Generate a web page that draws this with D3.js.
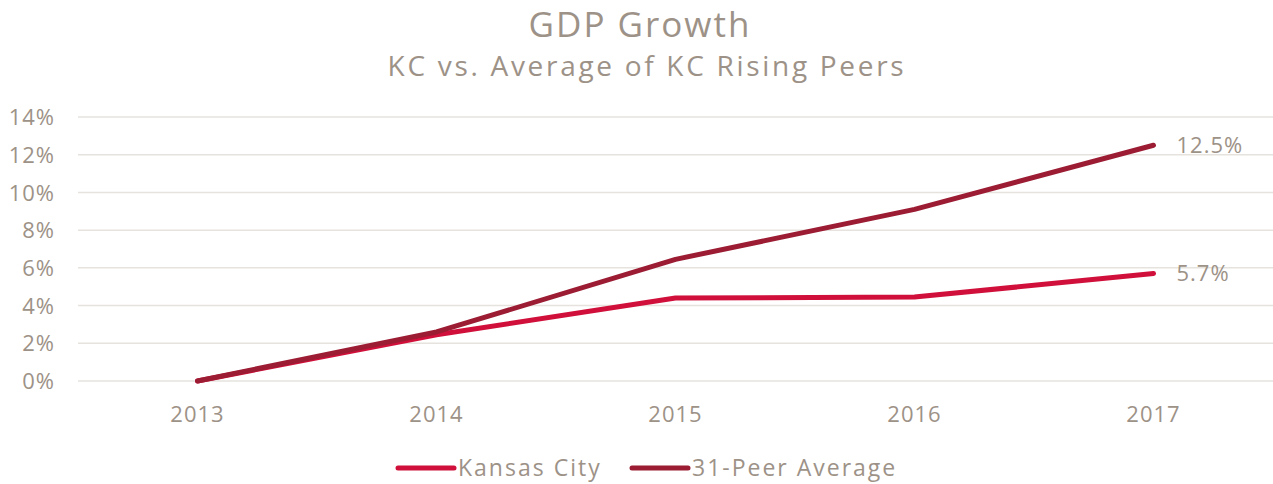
<!DOCTYPE html>
<html>
<head>
<meta charset="utf-8">
<script src="https://cdn.jsdelivr.net/npm/d3@7"></script>
<style>
  body { margin: 0; background: #fff; }
  svg text { font-family: "Open Sans", "Noto Sans", sans-serif; fill: #9d9287; letter-spacing: 1px; }
</style>
</head>
<body>
<div id="chart"></div>
<script>
// Data
var years = ["2013", "2014", "2015", "2016", "2017"];
var kansasCity = [0, 2.45, 4.4, 4.45, 5.7];
var peerAverage = [0, 2.6, 6.45, 9.1, 12.5];
var yTicks = [0, 2, 4, 6, 8, 10, 12, 14];
var seriesNames = ["Kansas City", "31-Peer Average"];
var seriesColors = ["#d0103a", "#9b1c33"];
var endLabels = ["5.7%", "12.5%"];

var svgWidth = 1273, svgHeight = 484;
var margins = {top: 117, bottom: 103, left: 78, right: 0};
var width = svgWidth - margins.left - margins.right;
var height = svgHeight - margins.top - margins.bottom;

var svg = d3.select("#chart")
  .append("svg")
    .attr("width", svgWidth)
    .attr("height", svgHeight);

// Titles
svg.append("text")
  .attr("x", 640).attr("y", 37)
  .attr("text-anchor", "middle")
  .style("font-size", "35px")
  .style("letter-spacing", "2px")
  .text("GDP Growth");
svg.append("text")
  .attr("x", 647).attr("y", 76)
  .attr("text-anchor", "middle")
  .style("font-size", "28px")
  .style("letter-spacing", "2.7px")
  .text("KC vs. Average of KC Rising Peers");

var g = svg.append("g")
  .attr("transform", "translate(" + margins.left + "," + margins.top + ")");

var x = d3.scaleBand().domain(years).range([0, width]);
var y = d3.scaleLinear().domain([0, 14]).range([height, 0]);

// Gridlines
g.selectAll(".grid")
  .data(yTicks)
  .enter().append("line")
    .attr("x1", 0).attr("x2", width)
    .attr("y1", d => y(d)).attr("y2", d => y(d))
    .attr("stroke", "#e6e3de")
    .attr("stroke-width", 1.5);

// Y axis
var yAxis = g.append("g")
  .attr("transform", "translate(-20,0)")
  .call(d3.axisLeft(y).tickValues(yTicks).tickFormat(d => d + "%").tickSize(0));
yAxis.select(".domain").remove();
yAxis.selectAll("text").style("font-size", "22px").attr("dy", "0.35em");

// X axis
var xAxis = g.append("g")
  .attr("transform", "translate(0," + height + ")")
  .call(d3.axisBottom(x).tickSize(0));
xAxis.select(".domain").remove();
xAxis.selectAll("text").style("font-size", "22px").attr("dy", "38px");

// Lines
var line = d3.line()
  .x((d, i) => x(years[i]) + x.bandwidth() / 2)
  .y(d => y(d));

var allSeries = [kansasCity, peerAverage];
allSeries.forEach(function(s, k) {
  g.append("path")
    .attr("d", line(s))
    .attr("fill", "none")
    .attr("stroke", seriesColors[k])
    .attr("stroke-width", 5)
    .attr("stroke-linecap", "round")
    .attr("stroke-linejoin", "round");

  g.append("text")
    .attr("x", x(years[4]) + x.bandwidth() / 2 + 23)
    .attr("y", y(s[4]))
    .attr("dy", "0.35em")
    .style("font-size", "22px")
    .text(endLabels[k]);
});

// Legend
var legendX = [398, 632];
seriesNames.forEach(function(name, k) {
  svg.append("line")
    .attr("x1", legendX[k]).attr("x2", legendX[k] + 56)
    .attr("y1", 468).attr("y2", 468)
    .attr("stroke", seriesColors[k])
    .attr("stroke-width", 5)
    .attr("stroke-linecap", "round");
  svg.append("text")
    .attr("x", legendX[k] + 60)
    .attr("y", 468)
    .attr("dy", "0.35em")
    .style("font-size", "23px")
    .style("letter-spacing", "2px")
    .text(name);
});
</script>
</body>
</html>
